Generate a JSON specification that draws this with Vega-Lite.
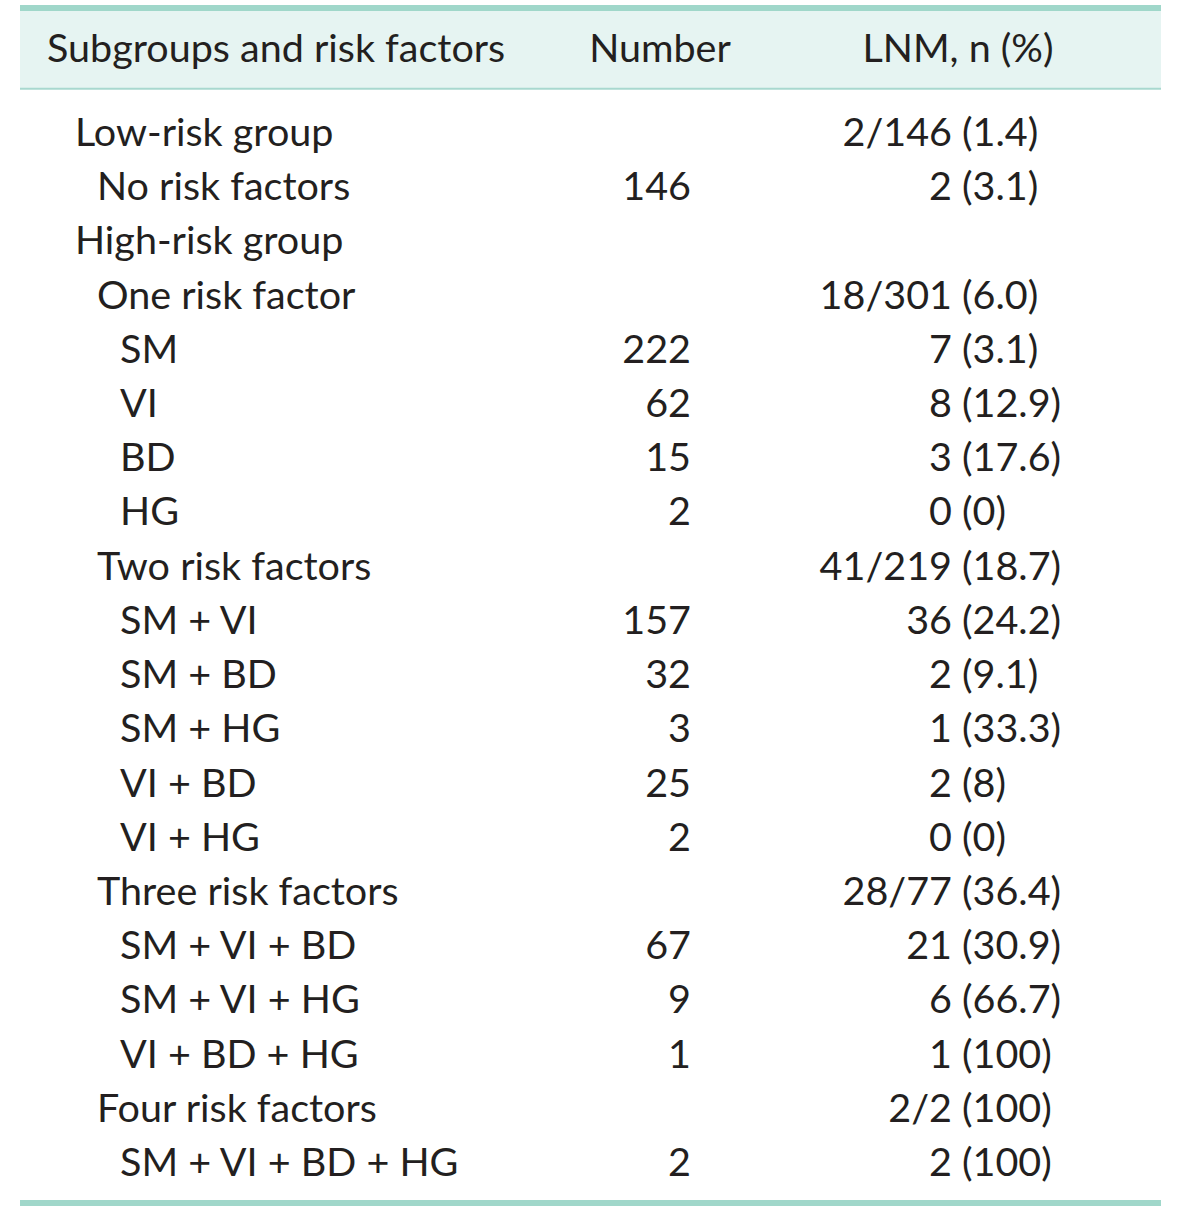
{
  "$schema": "https://vega.github.io/schema/vega-lite/v6.json",
  "width": 1200,
  "height": 1210,
  "autosize": {"type": "fit", "contains": "padding"},
  "padding": 0,
  "background": "white",
  "config": {"view": {"stroke": null}, "text": {"font": "Lato", "fontSize": 39.5, "color": "#231f20", "baseline": "middle", "dy": 2}},
  "datasets": {
    "rows": [
      {"row": 1, "label": "Low-risk group", "level": 0, "num": "", "n": "2/146", "pct": "(1.4)"},
      {"row": 2, "label": "No risk factors", "level": 1, "num": "146", "n": "2", "pct": "(3.1)"},
      {"row": 3, "label": "High-risk group", "level": 0, "num": "", "n": "", "pct": ""},
      {"row": 4, "label": "One risk factor", "level": 1, "num": "", "n": "18/301", "pct": "(6.0)"},
      {"row": 5, "label": "SM", "level": 2, "num": "222", "n": "7", "pct": "(3.1)"},
      {"row": 6, "label": "VI", "level": 2, "num": "62", "n": "8", "pct": "(12.9)"},
      {"row": 7, "label": "BD", "level": 2, "num": "15", "n": "3", "pct": "(17.6)"},
      {"row": 8, "label": "HG", "level": 2, "num": "2", "n": "0", "pct": "(0)"},
      {"row": 9, "label": "Two risk factors", "level": 1, "num": "", "n": "41/219", "pct": "(18.7)"},
      {"row": 10, "label": "SM + VI", "level": 2, "num": "157", "n": "36", "pct": "(24.2)"},
      {"row": 11, "label": "SM + BD", "level": 2, "num": "32", "n": "2", "pct": "(9.1)"},
      {"row": 12, "label": "SM + HG", "level": 2, "num": "3", "n": "1", "pct": "(33.3)"},
      {"row": 13, "label": "VI + BD", "level": 2, "num": "25", "n": "2", "pct": "(8)"},
      {"row": 14, "label": "VI + HG", "level": 2, "num": "2", "n": "0", "pct": "(0)"},
      {"row": 15, "label": "Three risk factors", "level": 1, "num": "", "n": "28/77", "pct": "(36.4)"},
      {"row": 16, "label": "SM + VI + BD", "level": 2, "num": "67", "n": "21", "pct": "(30.9)"},
      {"row": 17, "label": "SM + VI + HG", "level": 2, "num": "9", "n": "6", "pct": "(66.7)"},
      {"row": 18, "label": "VI + BD + HG", "level": 2, "num": "1", "n": "1", "pct": "(100)"},
      {"row": 19, "label": "Four risk factors", "level": 1, "num": "", "n": "2/2", "pct": "(100)"},
      {"row": 20, "label": "SM + VI + BD + HG", "level": 2, "num": "2", "n": "2", "pct": "(100)"}
    ],
    "header": [
      {"col": "Subgroups and risk factors"}
    ]
  },
  "layer": [
    {
      "data": {"name": "header"},
      "mark": {"type": "rect", "color": "#e6f4f2"},
      "encoding": {
        "x": {"datum": 20, "type": "quantitative", "scale": {"domain": [0, 1200], "nice": false, "zero": false}, "axis": null},
        "x2": {"datum": 1161},
        "y": {"datum": -1.25, "type": "quantitative", "scale": {"domain": [-1.435, 20.886], "reverse": true, "nice": false, "zero": false}, "axis": null},
        "y2": {"datum": 0.19}
      }
    },
    {
      "data": {"name": "header"},
      "mark": {"type": "rule", "color": "#a0d7ca", "strokeWidth": 6},
      "encoding": {
        "x": {"datum": 20, "type": "quantitative"},
        "x2": {"datum": 1161},
        "y": {"datum": -1.287, "type": "quantitative"}
      }
    },
    {
      "data": {"name": "header"},
      "mark": {"type": "rule", "color": "#a8d8cf", "strokeWidth": 2},
      "encoding": {
        "x": {"datum": 20, "type": "quantitative"},
        "x2": {"datum": 1161},
        "y": {"datum": 0.2, "type": "quantitative"}
      }
    },
    {
      "data": {"name": "header"},
      "mark": {"type": "rule", "color": "#a0d7ca", "strokeWidth": 6},
      "encoding": {
        "x": {"datum": 20, "type": "quantitative"},
        "x2": {"datum": 1161},
        "y": {"datum": 20.756, "type": "quantitative"}
      }
    },
    {
      "data": {"name": "header"},
      "mark": {"type": "text", "align": "left", "text": "Subgroups and risk factors"},
      "encoding": {"x": {"datum": 47, "type": "quantitative"}, "y": {"datum": -0.55, "type": "quantitative"}}
    },
    {
      "data": {"name": "header"},
      "mark": {"type": "text", "align": "center", "text": "Number"},
      "encoding": {"x": {"datum": 660, "type": "quantitative"}, "y": {"datum": -0.55, "type": "quantitative"}}
    },
    {
      "data": {"name": "header"},
      "mark": {"type": "text", "align": "center", "text": "LNM, n (%)"},
      "encoding": {"x": {"datum": 958, "type": "quantitative"}, "y": {"datum": -0.55, "type": "quantitative"}}
    },
    {
      "data": {"name": "rows"},
      "transform": [{"filter": "datum.level == 0"}],
      "mark": {"type": "text", "align": "left"},
      "encoding": {"x": {"datum": 75, "type": "quantitative"}, "y": {"field": "row", "type": "quantitative"}, "text": {"field": "label"}}
    },
    {
      "data": {"name": "rows"},
      "transform": [{"filter": "datum.level == 1"}],
      "mark": {"type": "text", "align": "left"},
      "encoding": {"x": {"datum": 97, "type": "quantitative"}, "y": {"field": "row", "type": "quantitative"}, "text": {"field": "label"}}
    },
    {
      "data": {"name": "rows"},
      "transform": [{"filter": "datum.level == 2"}],
      "mark": {"type": "text", "align": "left"},
      "encoding": {"x": {"datum": 120, "type": "quantitative"}, "y": {"field": "row", "type": "quantitative"}, "text": {"field": "label"}}
    },
    {
      "data": {"name": "rows"},
      "mark": {"type": "text", "align": "right"},
      "encoding": {"x": {"datum": 691, "type": "quantitative"}, "y": {"field": "row", "type": "quantitative"}, "text": {"field": "num"}}
    },
    {
      "data": {"name": "rows"},
      "mark": {"type": "text", "align": "right"},
      "encoding": {"x": {"datum": 952, "type": "quantitative"}, "y": {"field": "row", "type": "quantitative"}, "text": {"field": "n"}}
    },
    {
      "data": {"name": "rows"},
      "mark": {"type": "text", "align": "left"},
      "encoding": {"x": {"datum": 962, "type": "quantitative"}, "y": {"field": "row", "type": "quantitative"}, "text": {"field": "pct"}}
    }
  ]
}
